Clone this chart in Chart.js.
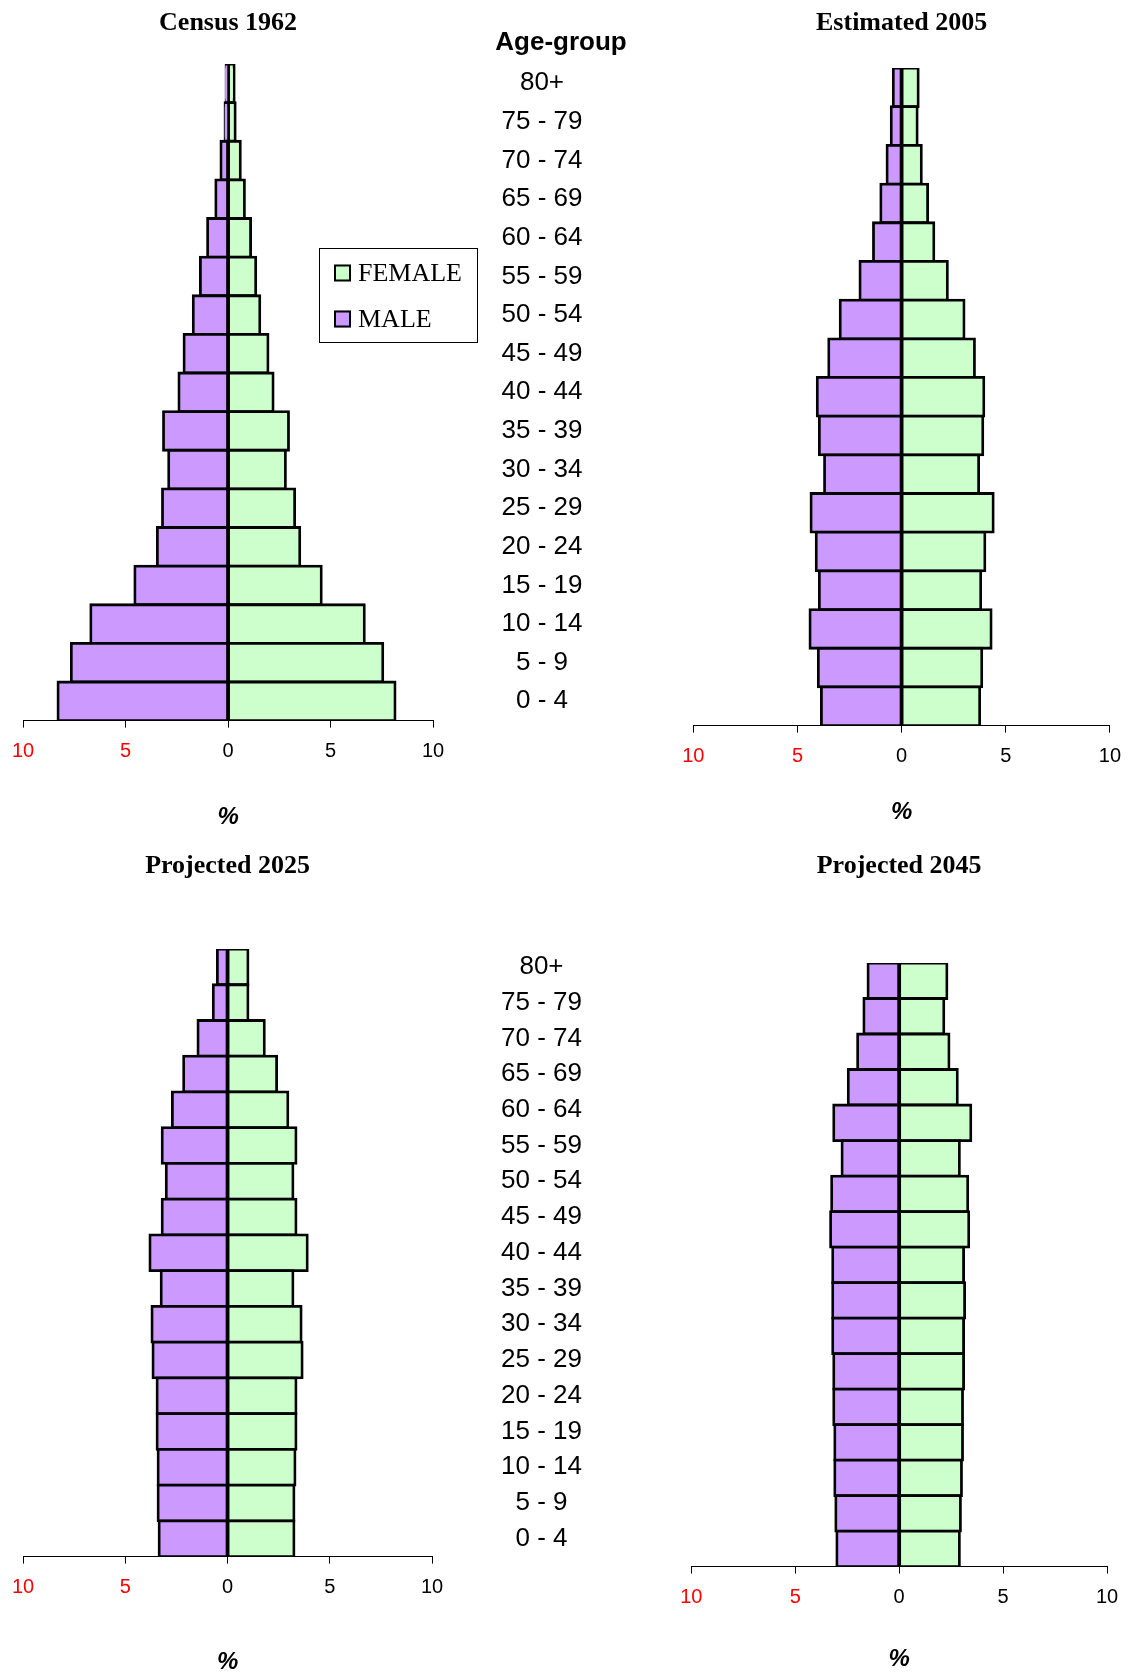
<!DOCTYPE html>
<html>
<head>
<meta charset="utf-8">
<title>Population pyramids 1962 - 2045</title>
<script src="https://cdn.jsdelivr.net/npm/chart.js@4.4.0/dist/chart.umd.min.js"></script>
<style>
  html, body { margin: 0; padding: 0; background: #fff; }
  #page { position: relative; width: 1133px; height: 1677px; overflow: hidden; }
  .box { position: absolute; }
</style>
</head>
<body>
<div id="page">
  <div class="box" style="left:0;top:0;width:653px;height:832px"><canvas id="c1962"></canvas></div>
  <div class="box" style="left:660px;top:0;width:473px;height:827px"><canvas id="c2005"></canvas></div>
  <div class="box" style="left:0;top:840px;width:652px;height:837px"><canvas id="c2025"></canvas></div>
  <div class="box" style="left:660px;top:840px;width:473px;height:834px"><canvas id="c2045"></canvas></div>
</div>
<script>
// age groups, top of the pyramid first
const ageGroups = ['80+', '75 - 79', '70 - 74', '65 - 69', '60 - 64', '55 - 59', '50 - 54', '45 - 49',
                   '40 - 44', '35 - 39', '30 - 34', '25 - 29', '20 - 24', '15 - 19', '10 - 14', '5 - 9', '0 - 4'];
const seriesNames = ['FEMALE', 'MALE'];
const xTicks = [-10, -5, 0, 5, 10];

// % of population (male drawn to the left)
const male1962   = [0.1, 0.15, 0.35, 0.6, 1.0, 1.35, 1.7, 2.15, 2.4, 3.15, 2.9, 3.2, 3.45, 4.55, 6.7, 7.65, 8.3];
const female1962 = [0.3, 0.35, 0.6, 0.8, 1.1, 1.35, 1.55, 1.95, 2.2, 2.95, 2.8, 3.25, 3.5, 4.55, 6.65, 7.55, 8.15];

const male2005   = [0.4, 0.5, 0.7, 1.0, 1.35, 2.0, 2.95, 3.5, 4.05, 3.95, 3.7, 4.35, 4.1, 3.95, 4.4, 4.0, 3.85];
const female2005 = [0.8, 0.75, 0.95, 1.25, 1.55, 2.2, 3.0, 3.5, 3.95, 3.9, 3.7, 4.4, 4.0, 3.8, 4.3, 3.85, 3.75];

const male2025   = [0.5, 0.7, 1.45, 2.15, 2.7, 3.2, 3.0, 3.2, 3.8, 3.25, 3.7, 3.65, 3.45, 3.45, 3.4, 3.4, 3.35];
const female2025 = [1.0, 1.0, 1.8, 2.4, 2.95, 3.35, 3.2, 3.35, 3.9, 3.2, 3.6, 3.65, 3.35, 3.35, 3.3, 3.25, 3.25];

const male2045   = [1.5, 1.7, 2.0, 2.45, 3.15, 2.75, 3.25, 3.3, 3.2, 3.2, 3.2, 3.15, 3.15, 3.1, 3.1, 3.05, 3.0];
const female2045 = [2.3, 2.15, 2.4, 2.8, 3.45, 2.9, 3.3, 3.35, 3.1, 3.15, 3.1, 3.1, 3.05, 3.05, 3.0, 2.95, 2.9];

const SANS = '"Liberation Sans", Arial, sans-serif';
const SERIF = '"Liberation Serif", "Times New Roman", serif';
const FEMALE_COLOR = '#ccffcc';
const MALE_COLOR = '#cc99ff';

Chart.defaults.font.family = SANS;
Chart.defaults.color = '#000';
Chart.defaults.animation = false;

// header over the age labels + boxed legend (only on the 1962 chart)
const keyPlugin = {
  id: 'pyramidKey',
  afterDraw(chart, args, opts) {
    const ctx = chart.ctx;
    ctx.save();
    ctx.fillStyle = '#000';
    ctx.textAlign = 'center';
    ctx.textBaseline = 'middle';
    ctx.font = 'bold 26px ' + SANS;
    ctx.fillText(opts.header, opts.headerX, opts.headerY);

    const b = opts.box;
    ctx.strokeStyle = '#000';
    ctx.lineWidth = 1;
    ctx.strokeRect(b.x + 0.5, b.y + 0.5, b.w, b.h);
    ctx.font = '26px ' + SERIF;
    ctx.textAlign = 'left';
    chart.data.datasets.forEach((ds, i) => {
      const cy = b.y + b.firstRow + i * b.rowGap;
      ctx.fillStyle = ds.backgroundColor;
      ctx.fillRect(b.x + 15, cy - 8.5, 17, 17);
      ctx.lineWidth = 2;
      ctx.strokeRect(b.x + 16, cy - 7.5, 15, 15);
      ctx.fillStyle = '#000';
      ctx.fillText(ds.label, b.x + 39, cy + 1);
    });
    ctx.restore();
  }
};

function pyramid(id, title, male, female, lay) {
  const barStyle = {
    borderColor: '#000',
    borderWidth: 2.8,
    borderSkipped: false,
    inflateAmount: 1.4,   // centres the outline on the bar edge, so neighbours share one line
    barPercentage: 1,
    categoryPercentage: 1
  };
  return new Chart(document.getElementById(id), {
    type: 'bar',
    data: {
      labels: ageGroups,
      datasets: [
        Object.assign({ label: seriesNames[0], data: female, backgroundColor: FEMALE_COLOR }, barStyle),
        Object.assign({ label: seriesNames[1], data: male.map(v => -v), backgroundColor: MALE_COLOR }, barStyle)
      ]
    },
    options: {
      indexAxis: 'y',
      responsive: true,
      maintainAspectRatio: false,
      layout: { padding: lay.padding },
      plugins: {
        legend: { display: false },
        tooltip: { enabled: false },
        title: {
          display: true,
          text: title,
          fullSize: false,
          color: '#000',
          font: { family: SERIF, size: 26, weight: 'bold' },
          padding: lay.titlePad
        },
        pyramidKey: lay.key || {}
      },
      scales: {
        x: {
          type: 'linear',
          min: -10,
          max: 10,
          stacked: true,
          afterBuildTicks: s => { s.ticks = xTicks.map(v => ({ value: v })); },
          ticks: {
            callback: v => Math.abs(v),
            color: c => (c.tick && c.tick.value < 0) ? '#ff0000' : '#000',
            font: { size: 20 },
            padding: 12,
            maxRotation: 0
          },
          grid: { drawOnChartArea: false, drawTicks: true, tickLength: 7, color: '#000', lineWidth: 1 },
          border: { display: true, color: '#000', width: 1 },
          title: {
            display: true,
            text: '%',
            color: '#000',
            font: { size: 24, weight: 'bold', style: 'italic' },
            padding: { top: lay.pctPad, bottom: 0 }
          }
        },
        y: {
          type: 'category',
          position: 'right',
          stacked: true,
          display: lay.ages,
          afterFit: s => {
            if (!lay.ages) return;
            s.width = 220;
            s.paddingTop = 0;
            s.paddingBottom = 0;
          },
          grid: { display: false, drawTicks: false },
          border: { display: false },
          ticks: {
            autoSkip: false,
            crossAlign: 'center',
            padding: lay.agePad || 0,
            color: '#000',
            font: { size: 26 }
          }
        }
      }
    },
    plugins: lay.key ? [keyPlugin] : []
  });
}

pyramid('c1962', 'Census 1962', male1962, female1962, {
  padding: { left: 22.3, right: 0, top: 0, bottom: 0 },
  titlePad: { top: 7.4, bottom: 25.4 },
  pctPad: 27.6,
  ages: true,
  agePad: 68.5,
  key: {
    header: 'Age-group', headerX: 561, headerY: 43,
    box: { x: 319, y: 248, w: 158, h: 94, firstRow: 25, rowGap: 46 }
  }
});

pyramid('c2005', 'Estimated 2005', male2005, female2005, {
  padding: { left: 33.3, right: 18, top: 0, bottom: 0 },
  titlePad: { top: 7.4, bottom: 29.4 },
  pctPad: 17.6,
  ages: false
});

pyramid('c2025', 'Projected 2025', male2025, female2025, {
  padding: { left: 18, right: 0, top: 0, bottom: 0 },
  titlePad: { top: 10.4, bottom: 67.4 },
  pctPad: 36.6,
  ages: true,
  agePad: 69
});

pyramid('c2045', 'Projected 2045', male2045, female2045, {
  padding: { left: 31.3, right: 26, top: 0, bottom: 0 },
  titlePad: { top: 10.4, bottom: 81.4 },
  pctPad: 23.6,
  ages: false
});
</script>
</body>
</html>
